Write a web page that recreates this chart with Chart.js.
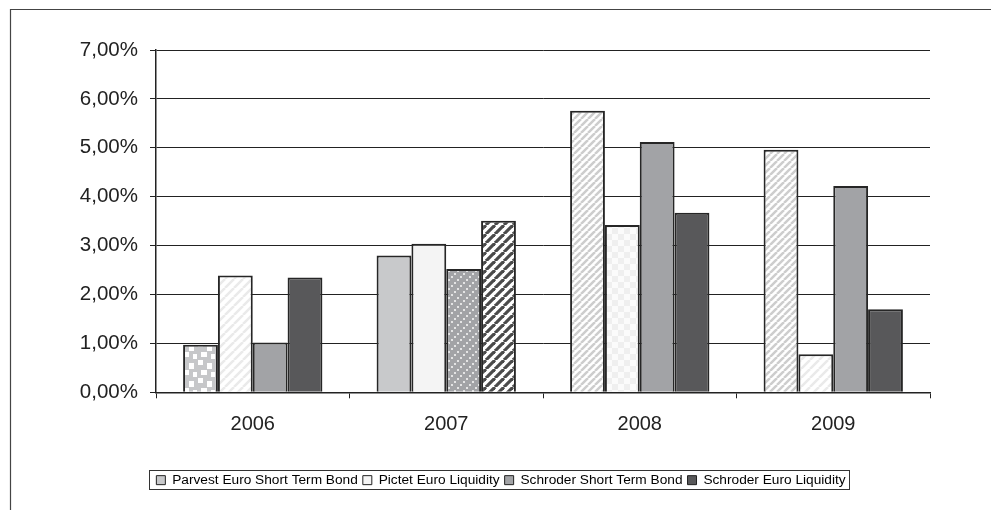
<!DOCTYPE html>
<html>
<head>
<meta charset="utf-8">
<script src="https://cdn.jsdelivr.net/npm/chart.js@4.4.1/dist/chart.umd.min.js"></script>
<style>
  html, body { margin: 0; padding: 0; background: #fff; }
  canvas { display: block; }
</style>
</head>
<body>
<canvas id="fundChart" width="991" height="510"></canvas>
<script>
// Données (rendements en %)
const years = ['2006', '2007', '2008', '2009'];
const parvest = [0.97, 2.80, 5.76, 4.96];
const pictet = [2.39, 3.04, 3.42, 0.78];
const schroderST = [1.02, 2.52, 5.12, 4.22];
const schroderEL = [2.35, 3.51, 3.67, 1.70];
const seriesNames = ['Parvest Euro Short Term Bond', 'Pictet Euro Liquidity', 'Schroder Short Term Bond', 'Schroder Euro Liquidity'];
const yMax = 7;
const yStep = 1;

// Couleurs de base
const colors = ['#c8c9cb', '#f4f4f4', '#a2a3a6', '#58585a'];

// Motifs (scan en niveaux de gris)
function tile(size, draw) {
    const c = document.createElement('canvas');
    c.width = size; c.height = size;
    const g = c.getContext('2d');
    draw(g, size);
    return g.createPattern(c, 'repeat');
}
function diag(bg, fg, size, lw) {
    return tile(size, function(g, s) {
        g.fillStyle = bg; g.fillRect(0, 0, s, s);
        g.strokeStyle = fg; g.lineWidth = lw;
        [-s, 0, s].forEach(function(o) {
            g.beginPath(); g.moveTo(o, s); g.lineTo(o + s, 0); g.stroke();
        });
    });
}
const patterns = {
    blocks: tile(18, function(g, s) {
        g.fillStyle = '#c6c7c9'; g.fillRect(0, 0, s, s);
        g.fillStyle = '#ffffff';
        g.fillRect(0, 0, 5, 5); g.fillRect(9, 3, 5, 6); g.fillRect(3, 10, 6, 5); g.fillRect(13, 12, 4, 5);
    }),
    faint: diag('#ffffff', '#eaeaea', 9, 2.5),
    faintChk: tile(12, function(g, s) {
        g.fillStyle = '#fbfbfb'; g.fillRect(0, 0, s, s);
        g.fillStyle = '#efefef'; g.fillRect(0, 0, 6, 6); g.fillRect(6, 6, 6, 6);
    }),
    dots: tile(9, function(g, s) {
        g.fillStyle = '#a2a3a6'; g.fillRect(0, 0, s, s);
        g.fillStyle = '#e4e4e4';
        g.fillRect(1, 6, 2, 2); g.fillRect(4, 3, 2, 2); g.fillRect(7, 0, 2, 2);
    }),
    stripes: diag('#ffffff', '#4a4a4a', 9, 3.2),
    lightDiag: diag('#ffffff', '#cdcdcd', 7, 2.5)
};
function fills(keys, base) {
    return keys.map(function(k) { return k === 'solid' ? base : patterns[k]; });
}

const framePlugin = {
    id: 'frame',
    beforeDraw: function(chart) {
        const ctx = chart.ctx;
        ctx.save();
        ctx.strokeStyle = '#444';
        ctx.lineWidth = 1.2;
        ctx.beginPath();
        ctx.moveTo(10.5, 510);
        ctx.lineTo(10.5, 9.5);
        ctx.lineTo(991, 9.5);
        ctx.stroke();
        ctx.restore();
    },
    afterDraw: function(chart) {
        const boxes = chart.legend.legendHitBoxes;
        if (!boxes || !boxes.length) return;
        let l = Infinity, r = -Infinity, t = Infinity, b = -Infinity;
        boxes.forEach(function(h) {
            l = Math.min(l, h.left); r = Math.max(r, h.left + h.width);
            t = Math.min(t, h.top); b = Math.max(b, h.top + h.height);
        });
        const ctx = chart.ctx;
        ctx.save();
        ctx.strokeStyle = '#333';
        ctx.lineWidth = 1;
        ctx.strokeRect(Math.round(l - 7) + 0.5, Math.round(t - 3) + 0.5, Math.round(r - l + 11), Math.round(b - t + 5));
        ctx.restore();
    }
};

const datasets = [
    { label: seriesNames[0], data: parvest, backgroundColor: fills(['blocks', 'solid', 'lightDiag', 'lightDiag'], colors[0]) },
    { label: seriesNames[1], data: pictet, backgroundColor: fills(['faint', 'solid', 'faintChk', 'faint'], colors[1]) },
    { label: seriesNames[2], data: schroderST, backgroundColor: fills(['solid', 'dots', 'solid', 'solid'], colors[2]) },
    { label: seriesNames[3], data: schroderEL, backgroundColor: fills(['solid', 'stripes', 'solid', 'solid'], colors[3]) }
].map(function(d) {
    d.borderColor = '#262626';
    d.borderWidth = 2;
    d.categoryPercentage = 0.72;
    d.barPercentage = 1.0;
    return d;
});

new Chart(document.getElementById('fundChart'), {
    type: 'bar',
    data: { labels: years, datasets: datasets },
    options: {
        responsive: false,
        animation: false,
        layout: { padding: { top: 50, right: 61, bottom: 13, left: 72 } },
        plugins: {
            tooltip: { enabled: false },
            legend: {
                position: 'bottom',
                labels: {
                    boxWidth: 9,
                    boxHeight: 9,
                    padding: 5,
                    color: '#222',
                    font: { family: '"Liberation Sans", Arial, sans-serif', size: 13.7 },
                    generateLabels: function() {
                        return seriesNames.map(function(n, i) {
                            return { text: n, fillStyle: colors[i], strokeStyle: '#222', lineWidth: 1, datasetIndex: i };
                        });
                    }
                }
            }
        },
        scales: {
            x: {
                afterFit: function(s) { s.height = 76; },
                grid: { drawOnChartArea: false, drawTicks: true, tickLength: 6, color: '#222', lineWidth: 1 },
                border: { color: '#222', width: 1.5 },
                ticks: { color: '#222', padding: 14, font: { family: '"Liberation Sans", Arial, sans-serif', size: 20 } }
            },
            y: {
                min: 0,
                max: yMax,
                afterFit: function(s) { s.width = 84; },
                grid: { color: '#222', lineWidth: 1, tickLength: 6 },
                border: { color: '#222', width: 1.5 },
                ticks: {
                    stepSize: yStep,
                    padding: 12,
                    color: '#222',
                    font: { family: '"Liberation Sans", Arial, sans-serif', size: 20.5 },
                    callback: function(value) {
                        return value.toFixed(2).replace('.', ',') + '%';
                    }
                }
            }
        }
    },
    plugins: [framePlugin]
});
</script>
</body>
</html>
